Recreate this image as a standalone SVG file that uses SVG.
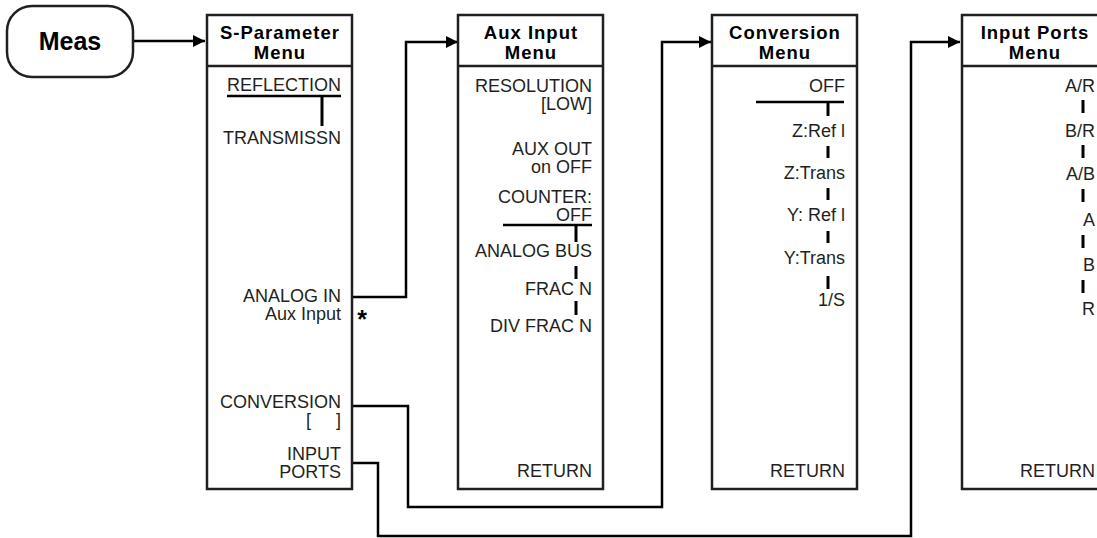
<svg xmlns="http://www.w3.org/2000/svg" width="1097" height="538" viewBox="0 0 1097 538">
<style>
.box{fill:#fff;stroke:#231f20;stroke-width:2.5}
.sep{stroke:#231f20;stroke-width:2.5}
.hd{font-family:"Liberation Sans",Arial,sans-serif;font-weight:bold;font-size:18.5px;letter-spacing:1px;fill:#000;text-anchor:middle}
.tx{font-family:"Liberation Sans",Arial,sans-serif;font-size:18px;fill:#231f20;text-anchor:end}
.ul{stroke:#000;stroke-width:2.5;fill:none}
.tk{stroke:#000;stroke-width:3;fill:none}
.cn{stroke:#000;stroke-width:2.5;fill:none}
</style>
<defs>
<marker id="arr" markerWidth="12" markerHeight="12" refX="12" refY="6" orient="auto" markerUnits="userSpaceOnUse">
<path d="M0,0 L12,6 L0,12 Z" fill="#000"/>
</marker>
</defs>

<g id="connectors">
<path class="cn" d="M133,41 H205" marker-end="url(#arr)"/>
<path class="cn" d="M352,297 H406 V42 H458" marker-end="url(#arr)"/>
<path class="cn" d="M352,406 H408 V507 H662 V42 H711" marker-end="url(#arr)"/>
<path class="cn" d="M352,463 H378 V536 H911 V42 H960" marker-end="url(#arr)"/>
</g>

<g id="meas">
<rect x="7" y="6" width="126" height="71" rx="25" ry="25" fill="#fff" stroke="#231f20" stroke-width="2.5"/>
<text x="70" y="50" font-family="'Liberation Sans',Arial,sans-serif" font-weight="bold" font-size="25" text-anchor="middle" fill="#000">Meas</text>
</g>

<g id="s-parameter-menu">
<rect class="box" x="207" y="15" width="145" height="474"/>
<line class="sep" x1="207" y1="66" x2="352" y2="66"/>
<text class="hd" x="280" y="39">S-Parameter</text>
<text class="hd" x="280" y="59">Menu</text>
<text class="tx" x="341" y="91">REFLECTION</text>
<line class="ul" x1="227" y1="96" x2="341" y2="96"/>
<line class="tk" x1="322" y1="96" x2="322" y2="126"/>
<text class="tx" x="341" y="144">TRANSMISSN</text>
<text class="tx" x="341" y="302">ANALOG IN</text>
<text class="tx" x="341" y="320">Aux Input</text>
<text x="362" y="328" font-family="'Liberation Sans',Arial,sans-serif" font-weight="bold" font-size="25" text-anchor="middle" fill="#000">*</text>
<text class="tx" x="341" y="408">CONVERSION</text>
<text class="tx" x="341" y="426" xml:space="preserve">[     ]</text>
<text class="tx" x="341" y="460">INPUT</text>
<text class="tx" x="341" y="478">PORTS</text>
</g>

<g id="aux-input-menu">
<rect class="box" x="458" y="15" width="145" height="474"/>
<line class="sep" x1="458" y1="66" x2="603" y2="66"/>
<text class="hd" x="531" y="39">Aux Input</text>
<text class="hd" x="531" y="59">Menu</text>
<text class="tx" x="592" y="92">RESOLUTION</text>
<text class="tx" x="592" y="110">[LOW]</text>
<text class="tx" x="592" y="155">AUX OUT</text>
<text class="tx" x="592" y="173">on OFF</text>
<text class="tx" x="592" y="203">COUNTER:</text>
<text class="tx" x="592" y="221">OFF</text>
<line class="ul" x1="503" y1="225" x2="592" y2="225"/>
<line class="tk" x1="576" y1="225" x2="576" y2="242"/>
<text class="tx" x="592" y="257">ANALOG BUS</text>
<line class="tk" x1="576" y1="266" x2="576" y2="279"/>
<text class="tx" x="592" y="295">FRAC N</text>
<line class="tk" x1="576" y1="301" x2="576" y2="315"/>
<text class="tx" x="592" y="332">DIV FRAC N</text>
<text class="tx" x="592" y="477">RETURN</text>
</g>

<g id="conversion-menu">
<rect class="box" x="712" y="15" width="145" height="474"/>
<line class="sep" x1="712" y1="66" x2="857" y2="66"/>
<text class="hd" x="785" y="39">Conversion</text>
<text class="hd" x="785" y="59">Menu</text>
<text class="tx" x="845" y="92">OFF</text>
<line class="ul" x1="756" y1="102" x2="844" y2="102"/>
<line class="tk" x1="828" y1="102" x2="828" y2="116"/>
<text class="tx" x="845" y="137">Z:Ref l</text>
<line class="tk" x1="828" y1="146" x2="828" y2="158"/>
<text class="tx" x="845" y="179">Z:Trans</text>
<line class="tk" x1="828" y1="188" x2="828" y2="200"/>
<text class="tx" x="845" y="221">Y: Ref l</text>
<line class="tk" x1="828" y1="231" x2="828" y2="243"/>
<text class="tx" x="845" y="264">Y:Trans</text>
<line class="tk" x1="828" y1="276" x2="828" y2="289"/>
<text class="tx" x="845" y="306">1/S</text>
<text class="tx" x="845" y="477">RETURN</text>
</g>

<g id="input-ports-menu">
<rect class="box" x="962" y="15" width="145" height="474"/>
<line class="sep" x1="962" y1="66" x2="1107" y2="66"/>
<text class="hd" x="1035" y="39">Input Ports</text>
<text class="hd" x="1035" y="59">Menu</text>
<text class="tx" x="1095" y="92">A/R</text>
<line class="tk" x1="1083" y1="100" x2="1083" y2="113"/>
<text class="tx" x="1095" y="137">B/R</text>
<line class="tk" x1="1083" y1="145" x2="1083" y2="158"/>
<text class="tx" x="1095" y="180">A/B</text>
<line class="tk" x1="1083" y1="189" x2="1083" y2="202"/>
<text class="tx" x="1095" y="226">A</text>
<line class="tk" x1="1083" y1="235" x2="1083" y2="248"/>
<text class="tx" x="1095" y="271">B</text>
<line class="tk" x1="1083" y1="280" x2="1083" y2="293"/>
<text class="tx" x="1095" y="315">R</text>
<text class="tx" x="1095" y="477">RETURN</text>
</g>
</svg>
